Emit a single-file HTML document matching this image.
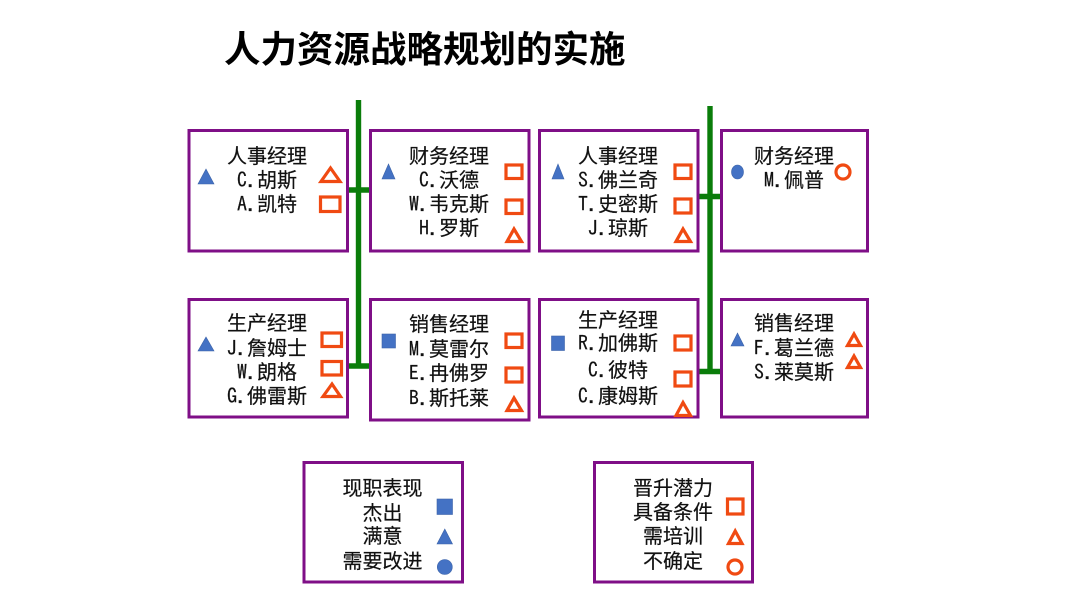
<!DOCTYPE html>
<html lang="zh">
<head>
<meta charset="utf-8">
<title>人力资源战略规划的实施</title>
<style>
html,body{margin:0;padding:0;background:#fff;width:1080px;height:607px;overflow:hidden}
svg{display:block;filter:blur(.35px)}
.b{fill:#fff;stroke:#7f0f87;stroke-width:3}
.g{fill:none;stroke:#0a7d0a;stroke-width:5.4}
.o{fill:none;stroke:#f04a12;stroke-width:3.2}
.u{fill:#4472c4;stroke:#3c63a8;stroke-width:.6}
text{font-family:"Noto Sans CJK SC","WenQuanYi Zen Hei",sans-serif;font-size:20px;fill:#111;stroke:#111;stroke-width:.2;text-anchor:middle}
tspan.l{font-family:"IPAGothic","Liberation Mono",monospace}
.t{font-size:36.5px;font-weight:700;text-anchor:start;fill:#000;stroke:none}
</style>
</head>
<body>
<svg width="1080" height="607" viewBox="0 0 1080 607" xmlns="http://www.w3.org/2000/svg">
<text class="t" x="224" y="62">人力资源战略规划的实施</text>

<path class="g" d="M358.500 100V368M347 190H370M347 366H370M710 106V374M698 196.500H721M698 371.500H721"/>

<rect class="b" x="189" y="130.500" width="158.500" height="120.500"/>
<rect class="b" x="370.500" y="130.500" width="158.500" height="120.500"/>
<rect class="b" x="539.500" y="130.500" width="158.500" height="120.500"/>
<rect class="b" x="721.500" y="130.500" width="146" height="120.500"/>
<rect class="b" x="189" y="299.500" width="158.500" height="117.500"/>
<rect class="b" x="370.500" y="299.500" width="158.500" height="120.500"/>
<rect class="b" x="539.500" y="299.500" width="158.500" height="117.500"/>
<rect class="b" x="721.500" y="299.500" width="146" height="117.500"/>
<rect class="b" x="304" y="462.500" width="158.500" height="119.500"/>
<rect class="b" x="594.500" y="462.500" width="158" height="119.500"/>

<text x="267" y="163">人事经理</text>
<text x="267" y="187"><tspan class="l">C.</tspan>胡斯</text>
<text x="267" y="211"><tspan class="l">A.</tspan>凯特</text>

<text x="449" y="163">财务经理</text>
<text x="449" y="187"><tspan class="l">C.</tspan>沃德</text>
<text x="449" y="211"><tspan class="l">W.</tspan>韦克斯</text>
<text x="449" y="235"><tspan class="l">H.</tspan>罗斯</text>

<text x="618" y="163">人事经理</text>
<text x="618" y="187"><tspan class="l">S.</tspan>佛兰奇</text>
<text x="618" y="211"><tspan class="l">T.</tspan>史密斯</text>
<text x="618" y="235"><tspan class="l">J.</tspan>琼斯</text>

<text x="794" y="163">财务经理</text>
<text x="794" y="187"><tspan class="l">M.</tspan>佩普</text>

<text x="267" y="330">生产经理</text>
<text x="267" y="355"><tspan class="l">J.</tspan>詹姆士</text>
<text x="267" y="379"><tspan class="l">W.</tspan>朗格</text>
<text x="267" y="403"><tspan class="l">G.</tspan>佛雷斯</text>

<text x="449" y="331">销售经理</text>
<text x="449" y="356"><tspan class="l">M.</tspan>莫雷尔</text>
<text x="449" y="380"><tspan class="l">E.</tspan>冉佛罗</text>
<text x="449" y="405"><tspan class="l">B.</tspan>斯托莱</text>

<text x="618" y="327">生产经理</text>
<text x="618" y="350"><tspan class="l">R.</tspan>加佛斯</text>
<text x="618" y="377"><tspan class="l">C.</tspan>彼特</text>
<text x="618" y="403"><tspan class="l">C.</tspan>康姆斯</text>

<text x="794" y="330">销售经理</text>
<text x="794" y="355"><tspan class="l">F.</tspan>葛兰德</text>
<text x="794" y="379"><tspan class="l">S.</tspan>莱莫斯</text>

<text x="382.500" y="495">现职表现</text>
<text x="382.500" y="520">杰出</text>
<text x="382.500" y="543">满意</text>
<text x="382.500" y="568">需要改进</text>

<text x="673" y="495">晋升潜力</text>
<text x="673" y="519">具备条件</text>
<text x="673" y="543">需培训</text>
<text x="673" y="568">不确定</text>

<polygon class="u" points="198,184 214,184 206,169"/>
<polygon class="o" points="321,181.500 340,181.500 330.500,168"/>
<rect class="o" x="320.500" y="197" width="19.500" height="14.500"/>

<polygon class="u" points="382,179 395,179 388.500,164"/>
<rect class="o" x="506" y="165" width="16" height="13.500"/>
<rect class="o" x="506" y="200" width="16" height="13.500"/>
<polygon class="o" points="507,241.500 521.500,241.500 514,229"/>

<polygon class="u" points="552,179 564,179 558,164"/>
<rect class="o" x="675" y="165" width="16" height="13.500"/>
<rect class="o" x="675" y="199" width="16" height="14"/>
<polygon class="o" points="676,241.500 690.500,241.500 683,229"/>

<ellipse class="u" cx="737.500" cy="172" rx="6" ry="7"/>
<circle class="o" cx="843" cy="172" r="7"/>

<polygon class="u" points="198,351 214,351 206,337"/>
<rect class="o" x="322" y="333" width="19.500" height="13.500"/>
<rect class="o" x="322" y="361.500" width="19.500" height="13.500"/>
<polygon class="o" points="323,396.500 340.500,396.500 332,384"/>

<rect class="u" x="382" y="334" width="13.500" height="14"/>
<rect class="o" x="506" y="334" width="16" height="13.500"/>
<rect class="o" x="506" y="368" width="16" height="14"/>
<polygon class="o" points="507,410.500 521.500,410.500 514,398"/>

<rect class="u" x="551.500" y="336" width="13" height="14.500"/>
<rect class="o" x="675" y="336" width="16" height="14"/>
<rect class="o" x="675" y="372" width="16" height="14"/>
<polygon class="o" points="676,415.500 690.500,415.500 683,402.500"/>

<polygon class="u" points="731,346 744,346 737.500,333"/>
<polygon class="o" points="847.500,345.500 860.500,345.500 854,334"/>
<polygon class="o" points="847.500,367.500 860.500,367.500 854,356"/>

<rect class="u" x="437" y="499" width="15.500" height="15.500"/>
<polygon class="u" points="437,544 452.500,544 444.800,529"/>
<circle class="u" cx="444.800" cy="567" r="7.500"/>

<rect class="o" x="727.500" y="499" width="15.500" height="15"/>
<polygon class="o" points="728.500,543.500 742,543.500 735.200,531"/>
<circle class="o" cx="735" cy="567" r="7"/>
</svg>
</body>
</html>
